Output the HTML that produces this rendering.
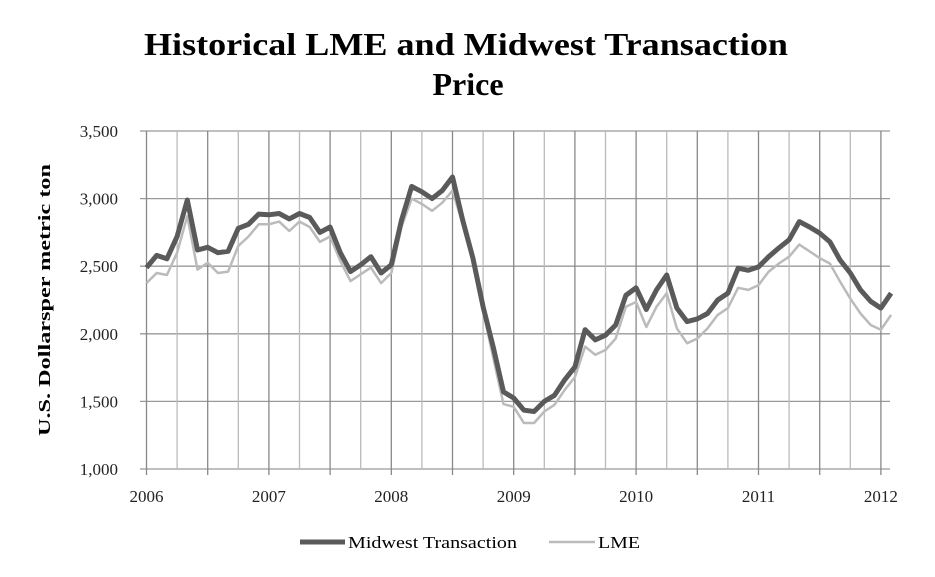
<!DOCTYPE html>
<html><head><meta charset="utf-8"><style>
body{margin:0;background:#fff}
svg{display:block;font-family:"Liberation Serif",serif}
</style></head><body>
<svg id="chart" width="935" height="577" viewBox="0 0 935 577">
<g>
<text x="466" y="55" text-anchor="middle" font-size="32" font-weight="bold" textLength="644" lengthAdjust="spacingAndGlyphs">Historical LME and Midwest Transaction</text>
<text x="468" y="95" text-anchor="middle" font-size="32" font-weight="bold">Price</text>
</g>
<text transform="translate(50,300) rotate(-90)" text-anchor="middle" font-size="17" font-weight="bold" textLength="272" lengthAdjust="spacingAndGlyphs">U.S. Dollarsper metric ton</text>
<g id="grid"></g><g id="series"></g><g id="axes"></g>
<g>
<g><line x1="300" y1="542" x2="345" y2="542" stroke="#5a5a5a" stroke-width="5"/><text x="348" y="548" font-size="17" textLength="169" lengthAdjust="spacingAndGlyphs">Midwest Transaction</text></g>
<g><line x1="549" y1="542" x2="595" y2="542" stroke="#bbb" stroke-width="2.5"/><text x="598" y="548" font-size="17" textLength="42" lengthAdjust="spacingAndGlyphs">LME</text></g>
</g>
</svg>
<script>
const yearLabels=["2006","2007","2008","2009","2010","2011","2012"];
const yTicks=[1000,1500,2000,2500,3000,3500];
const midwest=[2490,2580,2555,2720,2990,2620,2640,2600,2610,2780,2810,2885,2880,2890,2850,2890,2860,2750,2790,2600,2460,2510,2570,2450,2510,2840,3090,3050,3000,3060,3160,2840,2560,2200,1900,1570,1525,1435,1425,1500,1545,1660,1755,2030,1955,1990,2065,2285,2340,2180,2325,2435,2190,2090,2110,2150,2250,2300,2485,2470,2495,2570,2635,2695,2830,2790,2745,2680,2545,2450,2325,2240,2190,2300];
const lme=[2375,2450,2435,2600,2870,2475,2525,2450,2460,2650,2720,2810,2810,2830,2760,2830,2790,2680,2720,2540,2390,2440,2490,2375,2450,2790,3000,2960,2910,2970,3060,2810,2540,2170,1820,1480,1460,1340,1340,1425,1475,1585,1680,1905,1845,1880,1965,2200,2235,2050,2200,2300,2040,1930,1965,2040,2140,2190,2340,2325,2360,2460,2520,2570,2660,2610,2560,2520,2385,2260,2150,2065,2030,2140];
const NS="http://www.w3.org/2000/svg";
const X0=146.5,MON=10.2,Y0=469,YT=131,RIGHT=890;
const xs=i=>X0+i*MON;
const ys=v=>Y0-(v-1000)*(Y0-YT)/2500;
function mk(tag,attrs,parent){const e=document.createElementNS(NS,tag);for(const k in attrs)e.setAttribute(k,attrs[k]);parent.appendChild(e);return e;}
const grid=document.getElementById('grid'),axes=document.getElementById('axes'),ser=document.getElementById('series');
yTicks.forEach(v=>{
 const l=mk('line',{x1:140,x2:RIGHT,y1:ys(v),y2:ys(v),stroke:'#999','stroke-width':1.3},grid);
 
 
 const t=mk('text',{x:118,y:ys(v)+6,'text-anchor':'end','font-size':17,fill:'#222'},axes);
 t.textContent=v.toLocaleString('en-US');
 
 
});
for(let q=0;q<=24;q++){
 const x=xs(q*3),half=q%2===0;
 const l=mk('line',{x1:x,x2:x,y1:YT,y2:half?Y0+6:Y0,stroke:half?'#888':'#bbb','stroke-width':1.3},grid);
 
 
}
yearLabels.forEach((y,i)=>{
 const t=mk('text',{x:xs(i*12),y:502,'text-anchor':'middle','font-size':17,fill:'#222'},axes);
 t.textContent=y;
 
 
});
const pts=a=>a.map((v,i)=>xs(i).toFixed(1)+','+ys(v).toFixed(1)).join(' ');
const pl=mk('polyline',{points:pts(lme),fill:'none',stroke:'#bbb','stroke-width':2.5,'stroke-linejoin':'round'},ser);


const pm=mk('polyline',{points:pts(midwest),fill:'none',stroke:'#5a5a5a','stroke-width':5,'stroke-linejoin':'round'},ser);


</script>
</body></html>
